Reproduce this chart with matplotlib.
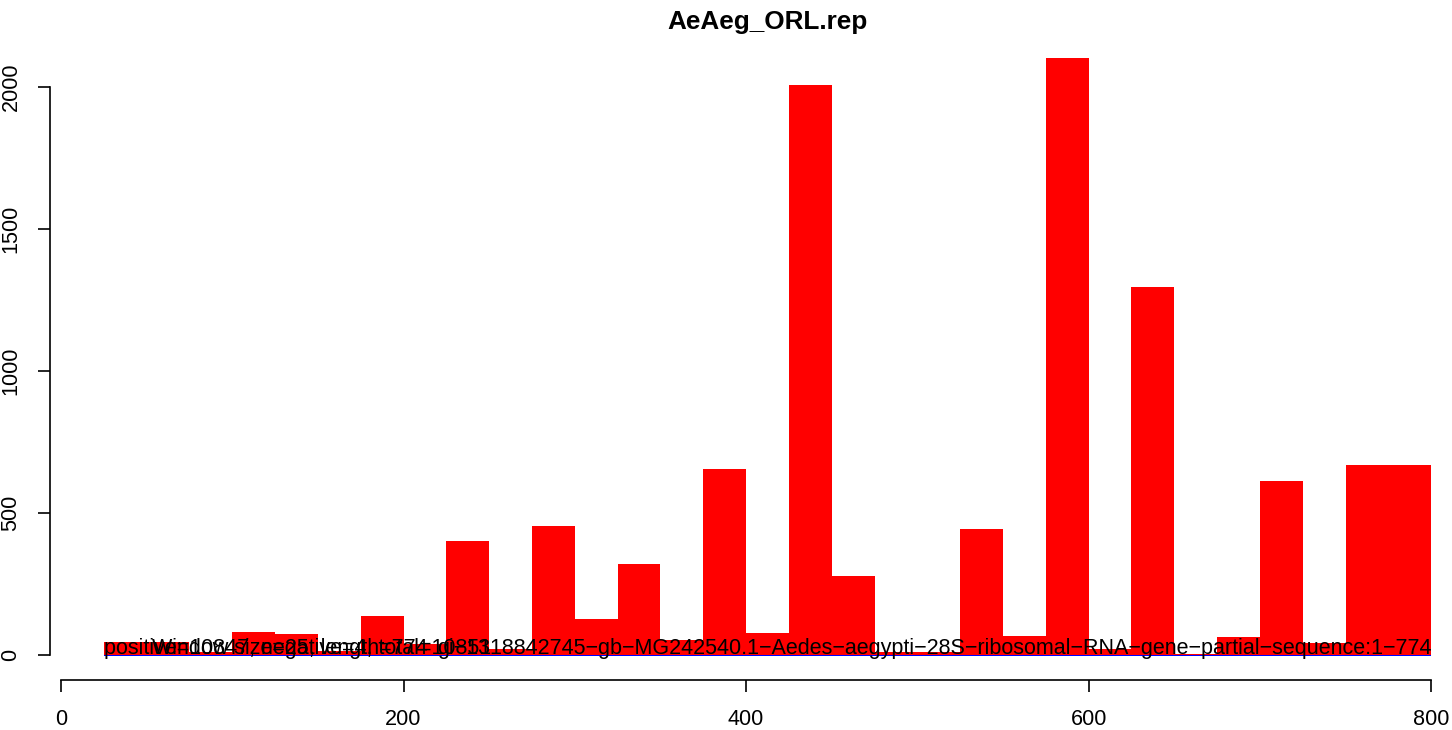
import matplotlib
matplotlib.use("Agg")
import matplotlib.pyplot as plt

plt.rcParams['font.family'] = ['Liberation Sans', 'DejaVu Sans']

# window start positions (window size 25)
starts = list(range(25, 800, 25))

# positive strand coverage per window
pos_vals = [45, 45, 10, 82, 74, 15, 138, 40, 400, 20,
            455, 125, 322, 53, 655, 77, 2008, 278, 10, 10,
            443, 67, 2100, 20, 1295, 5, 63, 612, 42, 668, 668]

# negative strand coverage per window (drawn downwards)
neg_vals = [-3] * len(starts)

title = "AeAeg_ORL.rep"
info_counts = "positive=10847, negative=4, total=10851"
info_window = "Window size=25, length=774"
seq_name = ("gi\u22121318842745\u2212gb\u2212MG242540.1\u2212Aedes\u2212aegypti\u221228S\u2212"
            "ribosomal\u2212RNA\u2212gene\u2212partial\u2212sequence:1\u2212774")

xticks = [0, 200, 400, 600, 800]
yticks = [0, 500, 1000, 1500, 2000]

W, H = 1452, 730
fig = plt.figure(figsize=(W / 100, H / 100), dpi=100)
ax = fig.add_axes([50 / W, (H - 680) / H, (1486 - 50) / W, (680 - 34) / H])

ax.bar(starts, pos_vals, width=25, align='edge', color='#ff0000', linewidth=0)
ax.bar(starts, neg_vals, width=25, align='edge', color='#0000ff', linewidth=0)

fs = 15.5
ax.text(25, 4, info_counts, ha='left', va='baseline', fontsize=fs, color='black')
ax.text(53, 4, info_window, ha='left', va='baseline', fontsize=fs, color='black')
ax.text(800, 4, seq_name, ha='right', va='baseline', fontsize=fs, color='black')

ax.set_xlim(-6.4, 832)
ax.set_ylim(-88, 2186)

for s in ['top', 'right']:
    ax.spines[s].set_visible(False)
ax.spines['left'].set_bounds(0, 2000)
ax.spines['bottom'].set_bounds(0, 800)
for s in ['left', 'bottom']:
    ax.spines[s].set_linewidth(1.2)

ax.set_xticks(xticks)
ax.set_yticks(yticks)
ax.set_yticklabels([str(v) for v in yticks], rotation=90, va='center')
ax.tick_params(axis='both', length=8.6, width=1.2, labelsize=15.6, pad=12)

ax.set_title(title, fontsize=18.8, fontweight='bold', pad=2)

fig.savefig("out.png", dpi=100)
